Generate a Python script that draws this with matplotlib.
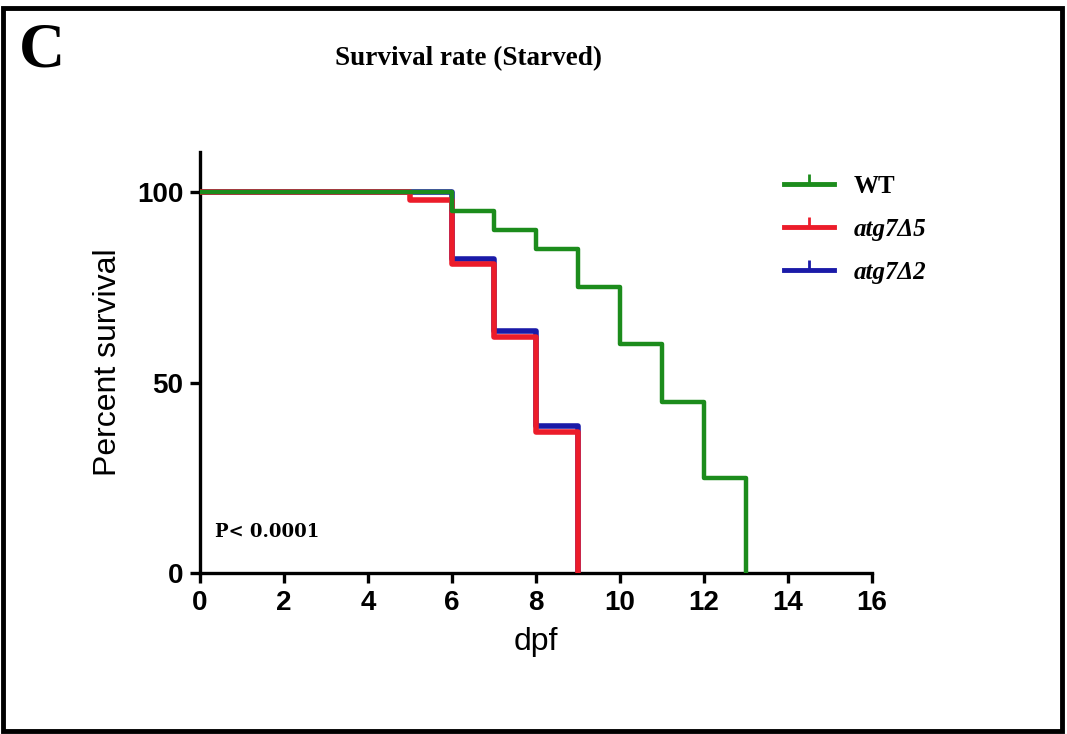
import numpy as np
import matplotlib.pyplot as plt
from matplotlib.lines import Line2D
from matplotlib.patches import Rectangle

# survival curves (dpf, percent survival)
wt_days = [0, 6, 7, 8, 9, 10, 11, 12, 13]
wt_surv = [100, 95, 90, 85, 75, 60, 45, 25, 0]

d5_days = [0, 5, 6, 7, 8, 9]
d5_surv = [100, 98, 81, 62, 37, 0]

d2_days = [0, 6, 7, 8, 9]
d2_surv = [100, 82.5, 63.5, 38.5, 0]

labels = ['WT', 'atg7Δ5', 'atg7Δ2']
colors = ['#1c8c1c', '#ec1c2a', '#1a1aa8']
xticks = np.arange(0, 17, 2)
yticks = [0, 50, 100]


def main():
    fig = plt.figure(figsize=(10.67, 7.34), dpi=100)
    ax = fig.add_axes([0.1874, 0.2193, 0.6298, 0.5736])

    ax.step(d2_days, d2_surv, where='post', color=colors[2], lw=4, zorder=2)
    ax.step(d5_days, d5_surv, where='post', color=colors[1], lw=4, zorder=3)
    ax.step(wt_days, wt_surv, where='post', color=colors[0], lw=3.2, zorder=4)

    ax.set_xlim(0, 16)
    ax.set_ylim(0, 110.5)
    ax.set_xticks(xticks)
    ax.set_yticks(yticks)
    for s in ['top', 'right']:
        ax.spines[s].set_visible(False)
    for s in ['left', 'bottom']:
        ax.spines[s].set_linewidth(2.4)
    ax.tick_params(width=2.4, length=7, direction='out', pad=5)
    for lab in ax.get_xticklabels() + ax.get_yticklabels():
        lab.set_fontfamily('Liberation Sans')
        lab.set_fontweight('bold')
        lab.set_fontsize(20)

    ax.set_xlabel('dpf', fontsize=23, family='Liberation Sans', labelpad=8)
    ax.set_ylabel('Percent survival', fontsize=23, family='Liberation Sans', labelpad=10)

    ax.text(0.022, 0.085, 'P< 0.0001', transform=ax.transAxes, fontsize=13,
            family='DejaVu Serif', fontweight='bold')

    # legend with censor tick marks
    handles = [Line2D([0, 0.5, 1], [0, 0, 0], color=c, lw=3.5, marker=2,
                      markersize=7, markeredgewidth=2, markevery=[1])
               for c in colors]
    leg = ax.legend(handles, labels, loc='upper left', bbox_to_anchor=(0.835, 1.0),
                    frameon=False, handlelength=2.0, handletextpad=0.8,
                    labelspacing=0.8,
                    prop={'family': 'Liberation Serif', 'weight': 'bold',
                          'style': 'italic', 'size': 18})
    leg.get_texts()[0].set_fontstyle('normal')

    fig.text(0.439, 0.92, 'Survival rate (Starved)', fontsize=19.5,
             family='Liberation Serif', fontweight='bold', va='center', ha='center')
    fig.text(0.018, 0.93, 'C', fontsize=46, family='Liberation Serif',
             fontweight='bold', va='center')

    fig.patches.append(Rectangle((0.003, 0.004), 0.992, 0.985, transform=fig.transFigure,
                                 fill=False, lw=3.5, edgecolor='black'))

    plt.savefig('out.png', dpi=100)


if __name__ == '__main__':
    main()
